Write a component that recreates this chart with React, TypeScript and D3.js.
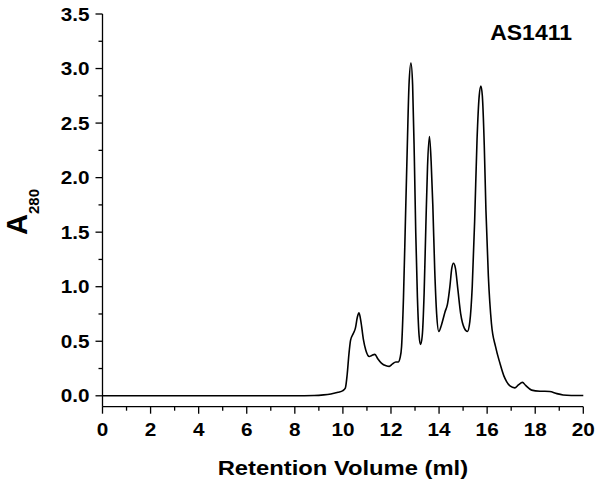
import React from "react";
import * as d3 from "d3";

const volumes = [0, 2, 4, 6, 8, 8.8, 9.2, 9.5, 9.8, 10.0, 10.1, 10.18, 10.25, 10.32, 10.43, 10.52, 10.6, 10.67, 10.75, 10.85, 10.95, 11.1, 11.2, 11.33, 11.45, 11.6, 11.8, 11.93, 12.05, 12.2, 12.3, 12.38, 12.44, 12.52, 12.6, 12.68, 12.75, 12.83, 12.9, 12.97, 13.03, 13.1, 13.17, 13.23, 13.3, 13.38, 13.45, 13.52, 13.6, 13.67, 13.74, 13.82, 13.9, 13.99, 14.1, 14.25, 14.35, 14.45, 14.53, 14.6, 14.68, 14.78, 14.9, 15.05, 15.18, 15.28, 15.38, 15.48, 15.58, 15.67, 15.74, 15.8, 15.88, 15.95, 16.05, 16.18, 16.35, 16.53, 16.7, 16.81, 16.95, 17.15, 17.3, 17.47, 17.6, 17.85, 18.2, 18.6, 18.9, 19.16, 19.5, 20];
const absorbance = [0, 0, 0, 0, 0, 0.002, 0.008, 0.017, 0.032, 0.048, 0.07, 0.2, 0.38, 0.51, 0.57, 0.62, 0.72, 0.76, 0.68, 0.52, 0.42, 0.36, 0.37, 0.38, 0.34, 0.3, 0.275, 0.27, 0.29, 0.31, 0.31, 0.35, 0.45, 0.9, 1.6, 2.3, 2.85, 3.05, 2.85, 2.2, 1.5, 0.9, 0.55, 0.47, 0.55, 0.95, 1.55, 2.1, 2.376, 2.15, 1.75, 1.15, 0.75, 0.59, 0.65, 0.77, 0.84, 1.0, 1.17, 1.215, 1.17, 0.98, 0.75, 0.62, 0.59, 0.68, 1.0, 1.6, 2.35, 2.75, 2.84, 2.75, 2.3, 1.7, 1.1, 0.66, 0.45, 0.3, 0.18, 0.13, 0.09, 0.073, 0.1, 0.123, 0.095, 0.052, 0.042, 0.04, 0.02, 0.008, 0.003, 0.002];

const xMajorTicks = [0, 2, 4, 6, 8, 10, 12, 14, 16, 18, 20];
const xMinorTicks = [1, 3, 5, 7, 9, 11, 13, 15, 17, 19];
const yMajorTicks = [0, 0.5, 1.0, 1.5, 2.0, 2.5, 3.0, 3.5];
const yMinorTicks = [0.25, 0.75, 1.25, 1.75, 2.25, 2.75, 3.25];
const sampleLabel = "AS1411";
const xTitle = "Retention Volume (ml)";

const W = 600, H = 487;
const left = 102.5, right = 583.3, top = 14, bottom = 406.7;
const FONT = "'Liberation Sans', Arial, Helvetica, sans-serif";

function SText({ x, y, sx, size, anchor, children }: { x: number; y: number; sx: number; size: number; anchor: string; children: React.ReactNode }) {
  return (
    <text transform={`translate(${x},${y}) scale(${sx},1)`} textAnchor={anchor} fontSize={size} fontWeight="bold">{children}</text>
  );
}

export default function App() {
  const x = d3.scaleLinear().domain([0, 20]).range([left, right]);
  const y = d3.scaleLinear().domain([-0.1, 3.5]).range([bottom, top]);
  const pts = volumes.map((v, i) => [v, absorbance[i]] as [number, number]);
  const line = d3.line<[number, number]>().x(d => x(d[0])).y(d => y(d[1])).curve(d3.curveMonotoneX);
  const majorLen = 7, minorLen = 4;
  return (
    <svg width={W} height={H} style={{ position: "absolute", left: 0, top: 0, background: "#fff" }} fontFamily={FONT}>
      <rect x={0} y={0} width={W} height={H} fill="#fff" />
      <line x1={left} x2={left} y1={top} y2={bottom} stroke="#000" strokeWidth={1.3} />
      <line x1={left} x2={right} y1={bottom} y2={bottom} stroke="#000" strokeWidth={1.3} />
      {yMajorTicks.map(t => (
        <g key={"ym" + t}>
          <line x1={left - majorLen} x2={left} y1={y(t)} y2={y(t)} stroke="#000" strokeWidth={1.3} />
          <SText x={left - 13} y={y(t) + 6.5} sx={1.12} size={18.5} anchor="end">{t.toFixed(1)}</SText>
        </g>
      ))}
      {yMinorTicks.map(t => (
        <line key={"yn" + t} x1={left - minorLen} x2={left} y1={y(t)} y2={y(t)} stroke="#000" strokeWidth={1.3} />
      ))}
      {xMajorTicks.map(t => (
        <g key={"xm" + t}>
          <line x1={x(t)} x2={x(t)} y1={bottom} y2={bottom + majorLen} stroke="#000" strokeWidth={1.3} />
          <SText x={x(t)} y={436} sx={1.12} size={18.5} anchor="middle">{t}</SText>
        </g>
      ))}
      {xMinorTicks.map(t => (
        <line key={"xn" + t} x1={x(t)} x2={x(t)} y1={bottom} y2={bottom + minorLen} stroke="#000" strokeWidth={1.3} />
      ))}
      <path d={line(pts) || ""} fill="none" stroke="#000" strokeWidth={1.6} strokeLinejoin="round" />
      <SText x={(left + right) / 2} y={475} sx={1.16} size={20.5} anchor="middle">{xTitle}</SText>
      <text transform={`translate(27, 212) rotate(-90)`} textAnchor="middle" fontWeight="bold">
        <tspan fontSize={29}>A</tspan>
        <tspan fontSize={15} dy={12}>280</tspan>
      </text>
      <SText x={572} y={40} sx={1.07} size={21.5} anchor="end">{sampleLabel}</SText>
    </svg>
  );
}
